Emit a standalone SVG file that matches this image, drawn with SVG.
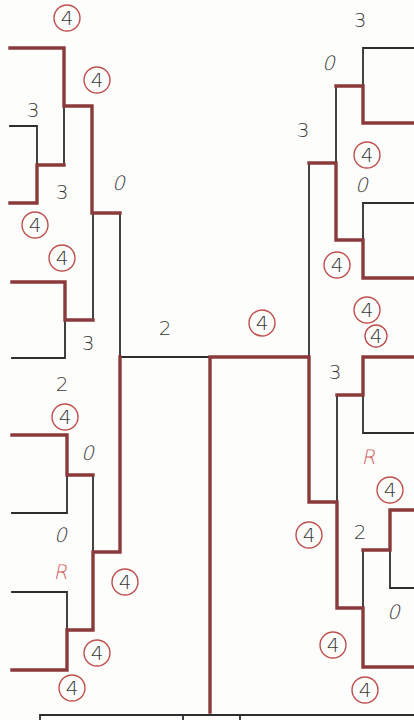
<svg xmlns="http://www.w3.org/2000/svg" width="414" height="720" viewBox="0 0 414 720">
<style>
.bk{fill:none;stroke:#2e2e2e;stroke-width:1.8;stroke-linecap:square}
.rd{fill:none;stroke:#8a3a3a;stroke-width:3.4;stroke-linejoin:miter;stroke-linecap:square}
.c{fill:none;stroke:#c0504d;stroke-width:1.4}
.t{font-family:"DejaVu Sans","Liberation Sans",sans-serif;font-size:20px;font-weight:300;fill:#3a3a3a;text-anchor:middle;dominant-baseline:central}
.r{fill:#d06060}
</style>
<rect width="414" height="720" fill="#fdfdfc"/>
<g id="connectors">
<g id="black-lines">
<path class="bk" d="M10,126 H37 V165"/>
<path class="bk" d="M64,106 V165"/>
<path class="bk" d="M12,358 H65 V320"/>
<path class="bk" d="M93,213 V320"/>
<path class="bk" d="M12,513 H67 V475"/>
<path class="bk" d="M12,592 H67 V630"/>
<path class="bk" d="M93,475 V552"/>
<path class="bk" d="M120,213 V357 H210"/>
<path class="bk" d="M414,48 H363 V86"/>
<path class="bk" d="M336,86 V163"/>
<path class="bk" d="M414,203 H363 V240"/>
<path class="bk" d="M309,163 V357"/>
<path class="bk" d="M414,433 H363 V395"/>
<path class="bk" d="M337,395 V502"/>
<path class="bk" d="M414,588 H390 V550"/>
<path class="bk" d="M363,550 V608"/>
<path class="bk" d="M40,720 V715 H414"/>
<path class="bk" d="M183,715 V720 M240,715 V720"/>
</g>
<g id="red-lines">
<path class="rd" d="M10,48 H64 V106 H92 V213 H120"/>
<path class="rd" d="M10,203 H37 V165 H64"/>
<path class="rd" d="M12,282 H65 V320 H93"/>
<path class="rd" d="M12,435 H67 V475 H93"/>
<path class="rd" d="M12,670 H67 V630 H93 V552 H120 V357"/>
<path class="rd" d="M210,712 V357 H309 V502 H337 V608 H363 V667 H414"/>
<path class="rd" d="M414,123 H363 V86 H336"/>
<path class="rd" d="M414,278 H363 V240 H336 V163 H309"/>
<path class="rd" d="M414,357 H363 V395 H337"/>
<path class="rd" d="M414,510 H390 V550 H363"/>
</g>
</g>
<g id="scores-left">
<g id="L1"><circle class="c" cx="67" cy="18" r="13"/><text class="t" x="67" y="18">4</text></g>
<g id="L2"><circle class="c" cx="97" cy="80" r="13"/><text class="t" x="97" y="80">4</text></g>
<g id="L3"><text class="t" x="33" y="110">3</text></g>
<g id="L4"><text class="t" x="62" y="192">3</text></g>
<g id="L5" transform="translate(120,183) skewX(-14)"><text class="t" x="0" y="0">0</text></g>
<g id="L6"><circle class="c" cx="35" cy="225" r="13"/><text class="t" x="35" y="225">4</text></g>
<g id="L7"><circle class="c" cx="62" cy="258" r="13"/><text class="t" x="62" y="258">4</text></g>
<g id="L8"><text class="t" x="88" y="343">3</text></g>
<g id="L9"><text class="t" x="62" y="384">2</text></g>
<g id="L10"><circle class="c" cx="65" cy="417" r="13"/><text class="t" x="65" y="417">4</text></g>
<g id="L11" transform="translate(89,453) skewX(-14)"><text class="t" x="0" y="0">0</text></g>
<g id="L12" transform="translate(62,535) skewX(-14)"><text class="t" x="0" y="0">0</text></g>
<g id="L13" transform="translate(62,572) skewX(-12)"><text class="t r" x="0" y="0">R</text></g>
<g id="L14"><circle class="c" cx="125" cy="582" r="13"/><text class="t" x="125" y="582">4</text></g>
<g id="L15"><circle class="c" cx="97" cy="653" r="13"/><text class="t" x="97" y="653">4</text></g>
<g id="L16"><circle class="c" cx="72" cy="688" r="13"/><text class="t" x="72" y="688">4</text></g>
</g>
<g id="scores-final">
<g id="F1"><text class="t" x="165" y="328">2</text></g>
<g id="F2"><circle class="c" cx="262" cy="323" r="13"/><text class="t" x="262" y="323">4</text></g>
</g>
<g id="scores-right">
<g id="R1"><text class="t" x="360" y="20">3</text></g>
<g id="R2" transform="translate(330,63) skewX(-14)"><text class="t" x="0" y="0">0</text></g>
<g id="R3"><text class="t" x="303" y="130">3</text></g>
<g id="R4"><circle class="c" cx="367" cy="155" r="13"/><text class="t" x="367" y="155">4</text></g>
<g id="R5" transform="translate(363,185) skewX(-14)"><text class="t" x="0" y="0">0</text></g>
<g id="R6"><circle class="c" cx="337" cy="265" r="13"/><text class="t" x="337" y="265">4</text></g>
<g id="R7"><circle class="c" cx="367" cy="310" r="13"/><text class="t" x="367" y="310">4</text></g>
<g id="R8"><circle class="c" cx="376" cy="336" r="11"/><text class="t" x="376" y="336">4</text></g>
<g id="R9"><text class="t" x="335" y="372">3</text></g>
<g id="R10" transform="translate(370,457) skewX(-12)"><text class="t r" x="0" y="0">R</text></g>
<g id="R11"><circle class="c" cx="390" cy="490" r="13"/><text class="t" x="390" y="490">4</text></g>
<g id="R12"><circle class="c" cx="309" cy="535" r="13"/><text class="t" x="309" y="535">4</text></g>
<g id="R13"><text class="t" x="360" y="532">2</text></g>
<g id="R14" transform="translate(395,612) skewX(-14)"><text class="t" x="0" y="0">0</text></g>
<g id="R15"><circle class="c" cx="333" cy="645" r="13"/><text class="t" x="333" y="645">4</text></g>
<g id="R16"><circle class="c" cx="365" cy="690" r="13"/><text class="t" x="365" y="690">4</text></g>
</g>
</svg>
